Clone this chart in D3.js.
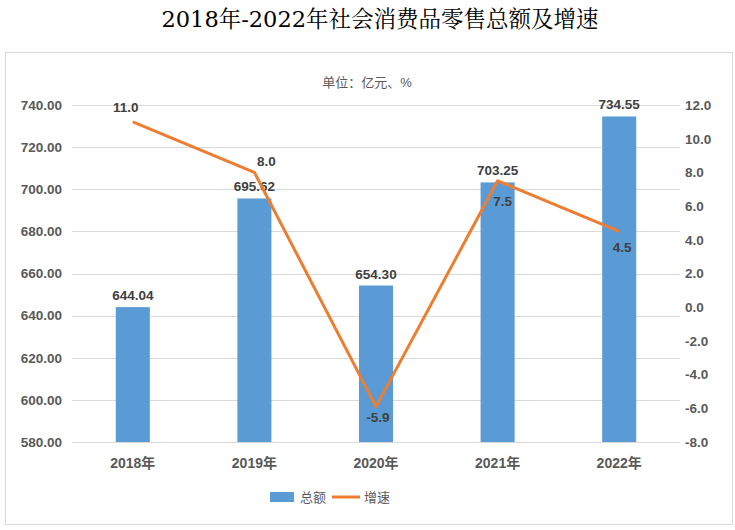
<!DOCTYPE html>
<html><head><meta charset="utf-8">
<script src="https://cdn.jsdelivr.net/npm/d3@7"></script>
<style>body{margin:0;background:#fff}svg{display:block}</style>
</head><body>
<svg id="c" width="735" height="530"></svg>
<script>
const categories = ["2018年","2019年","2020年","2021年","2022年"];
const totals = [644.04, 695.62, 654.30, 703.25, 734.55];
const growth = [11.0, 8.0, -5.9, 7.5, 4.5];
const leftTicks = [580,600,620,640,660,680,700,720,740];
const rightTicks = [-8,-6,-4,-2,0,2,4,6,8,10,12];

const svg = d3.select("#c");
const font = "'Liberation Sans','Noto Sans CJK SC',sans-serif";
const m = {l:72, r:680, t:105, b:442};
const f1 = v => d3.format(".1f")(v).replace("\u2212","-");
const f2 = v => d3.format(".2f")(v).replace("\u2212","-");

svg.append("rect").attr("x",5.5).attr("y",52.5).attr("width",727).attr("height",472)
  .attr("fill","#fff").attr("stroke","#d9d9d9");

svg.append("text").attr("x",380).attr("y",27).attr("text-anchor","middle")
  .attr("font-family","'DejaVu Serif','Noto Serif CJK SC','Noto Sans CJK SC',serif")
  .attr("font-size",22.5).attr("fill","#000").text("2018年-2022年社会消费品零售总额及增速");

svg.append("text").attr("x",367).attr("y",87).attr("text-anchor","middle")
  .attr("font-family",font).attr("font-size",13).attr("fill","#595959").text("单位：亿元、%");

const x = d3.scaleBand().domain(categories).range([m.l,m.r]).paddingInner(0.72).paddingOuter(0.36);
const yL = d3.scaleLinear().domain([580,740]).range([m.b,m.t]);
const yR = d3.scaleLinear().domain([-8,12]).range([m.b,m.t]);

svg.append("g").selectAll("line").data(leftTicks).join("line")
  .attr("x1",m.l).attr("x2",m.r).attr("y1",d=>Math.round(yL(d))+0.5).attr("y2",d=>Math.round(yL(d))+0.5)
  .attr("stroke","#d9d9d9").attr("stroke-width",1);

const gl = svg.append("g").attr("transform",`translate(${m.l-10},0)`)
  .call(d3.axisLeft(yL).tickValues(leftTicks).tickFormat(f2).tickSize(0).tickPadding(0));
gl.select(".domain").remove();
gl.selectAll("text").attr("font-family",font).attr("font-size",13.5).attr("font-weight","bold").attr("fill","#595959");

const gr = svg.append("g").attr("transform",`translate(${m.r+5},0)`)
  .call(d3.axisRight(yR).tickValues(rightTicks).tickFormat(f1).tickSize(0).tickPadding(0));
gr.select(".domain").remove();
gr.selectAll("text").attr("font-family",font).attr("font-size",13.5).attr("font-weight","bold").attr("fill","#595959");

svg.append("g").selectAll("rect").data(totals).join("rect")
  .attr("x",(d,i)=>x(categories[i])).attr("width",x.bandwidth())
  .attr("y",d=>yL(d)).attr("height",d=>m.b-yL(d)).attr("fill","#5B9BD5");

svg.append("g").selectAll("text").data(totals).join("text")
  .attr("x",(d,i)=>x(categories[i])+x.bandwidth()/2).attr("y",d=>yL(d)-7)
  .attr("text-anchor","middle").attr("font-family",font).attr("font-size",13.5).attr("font-weight","bold")
  .attr("fill","#404040").text(f2);

const gx = svg.append("g").attr("transform",`translate(0,${m.b})`)
  .call(d3.axisBottom(x).tickSize(0).tickPadding(16));
gx.select(".domain").remove();
gx.selectAll("text").attr("font-family",font).attr("font-size",14).attr("font-weight","bold").attr("fill","#595959");

const cx = i => x(categories[i])+x.bandwidth()/2;
svg.append("path").datum(growth)
  .attr("d",d3.line().x((d,i)=>cx(i)).y(d=>yR(d)))
  .attr("fill","none").attr("stroke","#ED7D31").attr("stroke-width",3).attr("stroke-linejoin","round");

// label nudges (dx, dy from point)
const nudge = [[-7,-10],[12,-6],[2,15],[5,25],[3,21]];
svg.append("g").selectAll("text").data(growth).join("text")
  .attr("x",(d,i)=>cx(i)+nudge[i][0])
  .attr("y",(d,i)=>yR(d)+nudge[i][1])
  .attr("text-anchor","middle").attr("font-family",font).attr("font-size",13.5).attr("font-weight","bold")
  .attr("fill","#404040").text(f1);

const lg = svg.append("g");
lg.append("rect").attr("x",270).attr("y",492).attr("width",24).attr("height",10).attr("fill","#5B9BD5");
lg.append("text").attr("x",300).attr("y",502).attr("font-family",font).attr("font-size",13).attr("fill","#595959").text("总额");
lg.append("line").attr("x1",332).attr("x2",360).attr("y1",497).attr("y2",497).attr("stroke","#ED7D31").attr("stroke-width",3);
lg.append("text").attr("x",364).attr("y",502).attr("font-family",font).attr("font-size",13).attr("fill","#595959").text("增速");
</script>
</body></html>
